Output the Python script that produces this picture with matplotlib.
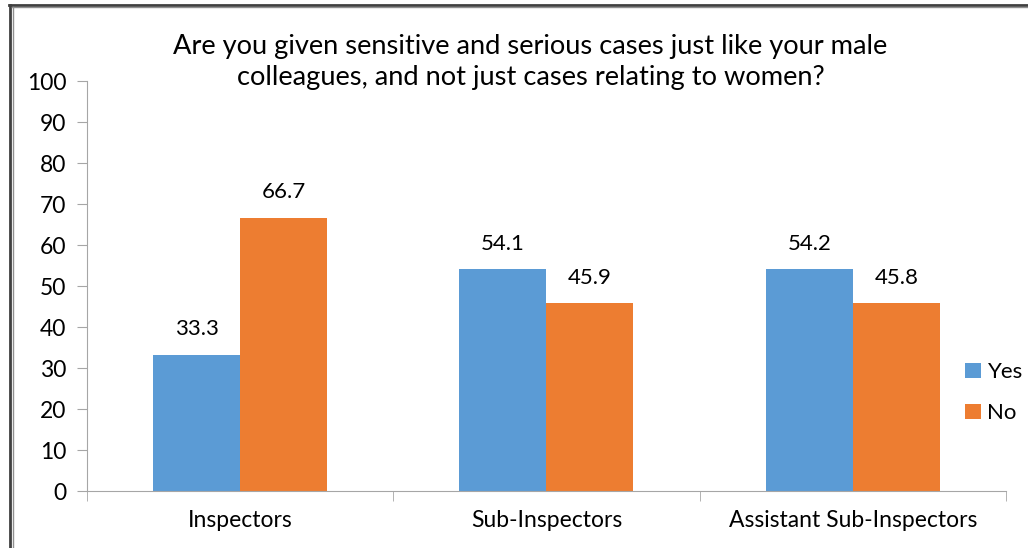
import matplotlib.pyplot as plt
from matplotlib.lines import Line2D
import numpy as np

plt.rcParams["font.family"] = ["Lato", "DejaVu Sans"]

categories = ["Inspectors", "Sub-Inspectors", "Assistant Sub-Inspectors"]
yes_values = [33.3, 54.1, 54.2]
no_values = [66.7, 45.9, 45.8]
yticks = [0, 10, 20, 30, 40, 50, 60, 70, 80, 90, 100]

blue = "#5B9BD5"
orange = "#ED7D31"
axis_gray = "#A6A6A6"

fig = plt.figure(figsize=(10.28, 5.48), dpi=100)
ax = fig.add_axes([0.0846, 0.104, 0.894, 0.748])

x = np.arange(len(categories))
w = 0.284
ax.bar(x - w / 2, yes_values, w, color=blue, label="Yes")
ax.bar(x + w / 2, no_values, w, color=orange, label="No")

# Data labels.
for i in range(len(categories)):
    ax.annotate(f"{yes_values[i]:.1f}", (x[i] - w / 2, yes_values[i]),
                xytext=(0, 11), textcoords="offset points",
                ha="center", va="bottom", fontsize=16)
    ax.annotate(f"{no_values[i]:.1f}", (x[i] + w / 2, no_values[i]),
                xytext=(0, 11), textcoords="offset points",
                ha="center", va="bottom", fontsize=16)

ax.set_xlim(-0.5, 2.5)
ax.set_ylim(0, 100)
ax.set_yticks(yticks)
ax.tick_params(axis="y", labelsize=16.5, length=7, color=axis_gray, pad=8)
ax.set_xticks(x)
ax.set_xticklabels(categories, fontsize=16.5)
ax.tick_params(axis="x", length=0, pad=14)
ax.set_xticks([-0.5, 0.5, 1.5, 2.5], minor=True)
ax.tick_params(axis="x", which="minor", length=7, color=axis_gray)

for side in ["top", "right"]:
    ax.spines[side].set_visible(False)
ax.spines["left"].set_color(axis_gray)
ax.spines["bottom"].set_color(axis_gray)

ax.legend(loc="center left", bbox_to_anchor=(0.946, 0.24), frameon=False,
          fontsize=16, handlelength=0.7, handleheight=0.7, handletextpad=0.3,
          labelspacing=0.95, borderaxespad=0)

fig.text(0.516, 0.886,
         "Are you given sensitive and serious cases just like your male\n"
         "colleagues, and not just cases relating to women?",
         ha="center", va="center", fontsize=19.6, linespacing=1.3)

# Frame around the chart (top and left edges).
fig.add_artist(Line2D([0.009, 1.0], [0.991, 0.991], transform=fig.transFigure,
                      color="#404040", lw=2))
fig.add_artist(Line2D([0.010, 0.010], [0.0, 0.991], transform=fig.transFigure,
                      color="#404040", lw=2))
fig.add_artist(Line2D([0.012, 1.0], [0.987, 0.987], transform=fig.transFigure,
                      color="#909090", lw=1))
fig.add_artist(Line2D([0.0125, 0.0125], [0.0, 0.987], transform=fig.transFigure,
                      color="#909090", lw=1))

fig.savefig("out.png", dpi=100)
